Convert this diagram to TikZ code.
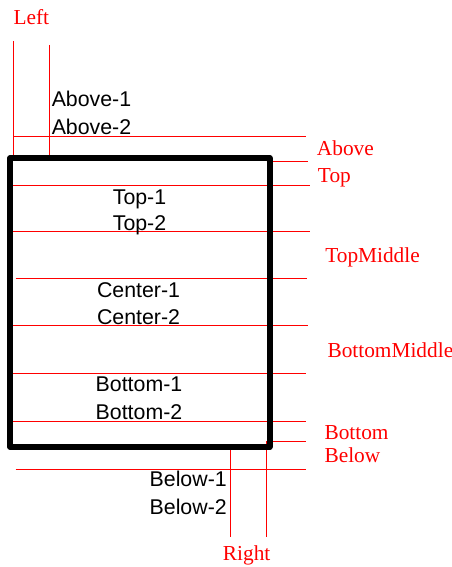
\documentclass[tikz,border=0pt]{standalone}
\usepackage{fontspec}
\setmainfont{Liberation Serif}
\newfontfamily\arialfont{Liberation Sans}
\usepackage{tikz}
\usetikzlibrary{positioning}

\tikzset{
  guide/.style={red, line width=0.75pt},
  mark label/.style={red, inner sep=0pt, font=\fontsize{16}{19}\selectfont},
  demo text/.style={black, inner sep=0pt, font=\arialfont\fontsize{16}{20}\selectfont}
}

\begin{document}
\begin{tikzpicture}[x=0.75pt, y=-0.75pt] % 1 Einheit = 1 Pixel der Vorlage
\useasboundingbox (0,0) rectangle (452,567);

% Hilfslinien (rot)
\draw[guide] (13,41) -- (13,160);
\draw[guide] (49.3,45) -- (49.3,161);
\foreach \y/\xa/\xb in {136.7/13/306, 161/266.7/308, 185.3/12.7/310, 231/13/310, 278.7/15.7/307, 325/13/308, 373.3/13/306, 421.7/13/306, 441/266.7/306, 469.3/15.7/306} {
  \draw[guide] (\xa,\y) -- (\xb,\y);
}
\draw[guide] (230,444) -- (230,537.3);
\draw[guide] (266,441) -- (266,537);

% Rahmen
\draw[line width=4.2pt, line join=round] (10,158) rectangle (269.7,447);

% Beschriftungen der Hilfslinien
\node[mark label, anchor=base west] (left) at (13.3,25) {Left};
\node[mark label, anchor=base west] (above) at (316.7,155) {Above};
\node[mark label, anchor=base west] (top) at (317.7,182.7) {Top};
\node[mark label, anchor=base west] (topmiddle) at (325,262.7) {TopMiddle};
\node[mark label, anchor=base west] (bottommiddle) at (327.3,357.7) {BottomMiddle};
\node[mark label, anchor=base west] (bottom) at (324.3,439) {Bottom};
\node[mark label, anchor=base west] (below) at (324.3,462.7) {Below};
\node[mark label, anchor=base west] (right) at (222.7,560.7) {Right};

% Texte
\node[demo text, anchor=base west] (above1) at (51.5,106.5) {Above-1};
\node[demo text, anchor=base west] (above2) at (51.5,134.2) {Above-2};
\node[demo text, anchor=base] (top1) at (139.5,204) {Top-1};
\node[demo text, anchor=base] (top2) at (139.5,230.8) {Top-2};
\node[demo text, anchor=base] (center1) at (138.5,297.7) {Center-1};
\node[demo text, anchor=base] (center2) at (138.5,324.3) {Center-2};
\node[demo text, anchor=base] (bottom1) at (139,391.7) {Bottom-1};
\node[demo text, anchor=base] (bottom2) at (139,419.3) {Bottom-2};
\node[demo text, anchor=base east] (below1) at (227,486.7) {Below-1};
\node[demo text, anchor=base east] (below2) at (227,514.3) {Below-2};

\end{tikzpicture}
\end{document}
